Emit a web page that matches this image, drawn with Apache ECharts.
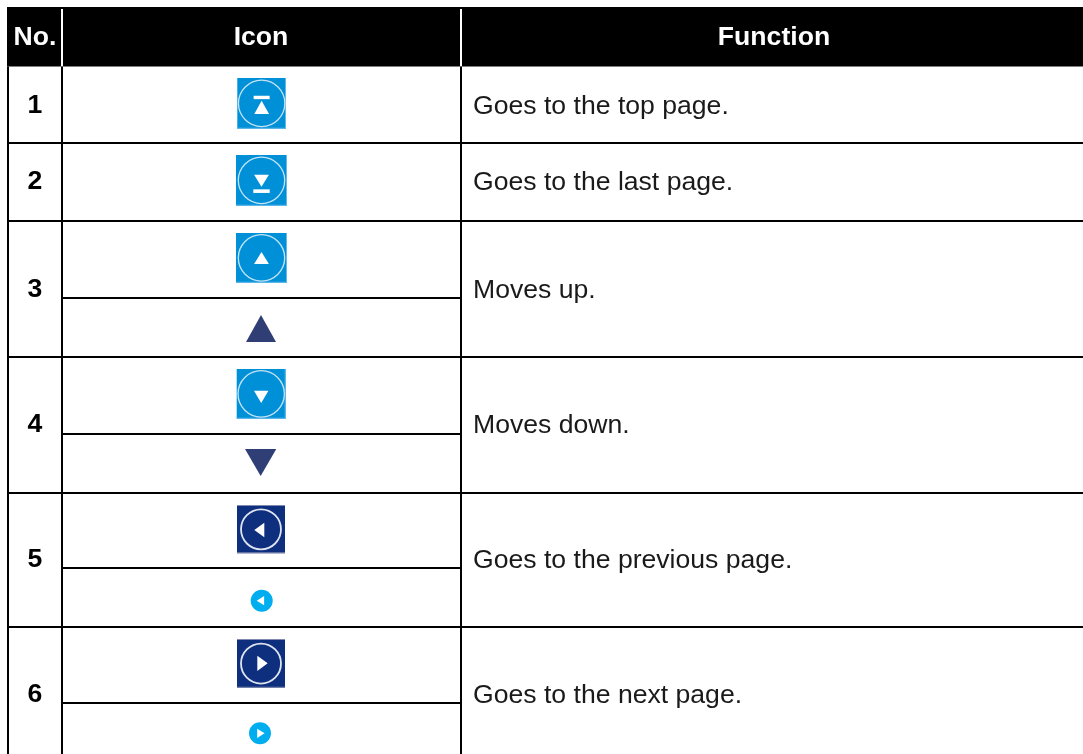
<!DOCTYPE html>
<html>
<head>
<meta charset="utf-8">
<title>Icon table</title>
<style>
  html, body { margin: 0; padding: 0; background: #fff; }
  #J_table { width: 1083px; height: 754px; }
</style>
<script src="https://cdn.jsdelivr.net/npm/echarts@6/dist/echarts.min.js"></script>
</head>
<body>
<div id="J_table"></div>
<script>
'use strict';

// table content
var headers = ['No.', 'Icon', 'Function'];
var rowNumbers = ['1', '2', '3', '4', '5', '6'];
var functions = [
  'Goes to the top page.',
  'Goes to the last page.',
  'Moves up.',
  'Moves down.',
  'Goes to the previous page.',
  'Goes to the next page.'
];
var iconKinds = [
  'top', 'last',
  'up', 'plainUp',
  'down', 'plainDown',
  'prev', 'smallPrev',
  'next', 'smallNext'
];

// layout, in page pixels (the hidden axes run 0..1083 and 0..754)
var colEdges = [7, 61, 460, 1083];
var headTop = 7, headBottom = 66.5;
var rowEdges = [67, 142, 220, 356, 492, 626, 762];
var rowMiddles = [105, 181, 289, 424, 559, 694];
var subLines = [297, 433, 567, 702];
var iconBoxes = [
  [237.3, 78, 286, 128.7], [236, 155, 287, 205.7],
  [236, 233, 287, 282.7], [246, 315, 276, 342],
  [236.7, 369, 285.7, 418.7], [245, 449, 276.3, 476],
  [237, 505, 285, 553.3], [250.7, 589.7, 272.7, 611.7],
  [237, 639, 285, 687.7], [249, 722.3, 271, 744.3]
];

var BLUE = '#0090d8', NAVY = '#0d2f7d', SLATE = '#2f3f75', CYAN = '#00aeef';
var BLUE_EDGE = '#62b8ea', NAVY_EDGE = '#8188ae';
var FONT = 'Liberation Sans';

function poly(api, pts, fill) {
  return {
    type: 'polygon',
    shape: { points: pts.map(function (p) { return api.coord(p); }) },
    style: { fill: fill }
  };
}

function box(api, x0, y0, x1, y1, fill) {
  var a = api.coord([x0, y0]), b = api.coord([x1, y1]);
  return { type: 'rect', shape: { x: a[0], y: a[1], width: b[0] - a[0], height: b[1] - a[1] }, style: { fill: fill } };
}

function ring(api, cx, cy, r, color, lw) {
  var c = api.coord([cx, cy]);
  return { type: 'circle', shape: { cx: c[0], cy: c[1], r: r }, style: { fill: 'none', stroke: color, lineWidth: lw } };
}

function disc(api, cx, cy, r, fill) {
  var c = api.coord([cx, cy]);
  return { type: 'circle', shape: { cx: c[0], cy: c[1], r: r }, style: { fill: fill } };
}

function renderRule(params, api) {
  return box(api, api.value(0), api.value(1), api.value(2), api.value(3), api.value(4) ? '#fff' : '#000');
}

function renderIcon(params, api) {
  var kind = iconKinds[params.dataIndex];
  var b = iconBoxes[params.dataIndex];
  var cx = (b[0] + b[2]) / 2, cy = (b[1] + b[3]) / 2;
  var kids = [];
  if (kind == 'plainUp') {
    kids.push(poly(api, [[cx, b[1]], [b[2], b[3]], [b[0], b[3]]], SLATE));
  } else if (kind == 'plainDown') {
    kids.push(poly(api, [[b[0], b[1]], [b[2], b[1]], [cx, b[3]]], SLATE));
  } else if (kind == 'smallPrev' || kind == 'smallNext') {
    kids.push(disc(api, cx, cy, 11, CYAN));
    if (kind == 'smallPrev') {
      kids.push(poly(api, [[cx - 5, cy], [cx + 2.4, cy - 4.6], [cx + 2.4, cy + 4.6]], '#fff'));
    } else {
      kids.push(poly(api, [[cx - 2.8, cy - 4.6], [cx - 2.8, cy + 4.6], [cx + 4.6, cy]], '#fff'));
    }
  } else if (kind == 'prev' || kind == 'next') {
    kids.push(box(api, b[0], b[1], b[2], b[3], NAVY));
    kids.push(box(api, b[0], b[3] - 1, b[2], b[3], NAVY_EDGE));
    kids.push(box(api, b[0], b[1], b[2], b[1] + 1, NAVY_EDGE));
    kids.push(ring(api, cx, cy + 0.2, 20, '#dfe4f0', 1.8));
    if (kind == 'prev') {
      kids.push(poly(api, [[cx - 6.7, cy + 0.8], [cx + 3.3, cy - 6.4], [cx + 3.3, cy + 8]], '#fff'));
    } else {
      kids.push(poly(api, [[cx - 3.7, cy - 7.7], [cx - 3.7, cy + 7.7], [cx + 6.7, cy]], '#fff'));
    }
  } else {
    kids.push(box(api, b[0], b[1], b[2], b[3], BLUE));
    kids.push(box(api, b[0], b[3] - 1, b[2], b[3], BLUE_EDGE));
    kids.push(box(api, b[2] - 1, b[1], b[2], b[3], BLUE_EDGE));
    kids.push(ring(api, cx, cy, 23.2, '#c4e3f6', 1.3));
    if (kind == 'top') {
      kids.push(box(api, cx - 8, cy - 7.6, cx + 8, cy - 4.2, '#fff'));
      kids.push(poly(api, [[cx, cy - 2.6], [cx + 7.4, cy + 10.6], [cx - 7.4, cy + 10.6]], '#fff'));
    } else if (kind == 'last') {
      kids.push(poly(api, [[cx - 7.4, cy - 5.6], [cx + 7.4, cy - 5.6], [cx, cy + 6.4]], '#fff'));
      kids.push(box(api, cx - 8.2, cy + 9, cx + 8.2, cy + 12.6, '#fff'));
    } else if (kind == 'up') {
      kids.push(poly(api, [[cx, cy - 5.8], [cx + 7.4, cy + 6.2], [cx - 7.4, cy + 6.2]], '#fff'));
    } else {
      kids.push(poly(api, [[cx - 7.2, cy - 3], [cx + 7.2, cy - 3], [cx, cy + 9.2]], '#fff'));
    }
  }
  return { type: 'group', children: kids };
}

function renderLabel(params, api) {
  var c = api.coord([api.value(0), api.value(1)]);
  var weight = api.value(3);
  return {
    type: 'text',
    x: c[0],
    y: c[1],
    style: {
      text: api.value(2),
      fill: weight == 2 ? '#fff' : (weight == 1 ? '#000' : '#1a1a1a'),
      fontFamily: FONT,
      fontSize: 26.6,
      fontWeight: weight > 0 ? 'bold' : 'normal',
      align: api.value(4) ? 'left' : 'center',
      verticalAlign: 'middle'
    }
  };
}

// table rules: x0, y0, x1, y1, white?
var rules = [];
rules.push([colEdges[0], headTop, colEdges[3], headBottom, 0]);
rules.push([colEdges[1], 9, colEdges[1] + 2, headBottom, 1]);
rules.push([colEdges[2], 9, colEdges[2] + 2, headBottom, 1]);
colEdges.slice(0, 3).forEach(function (x) {
  rules.push([x, headBottom, x + 2, 754, 0]);
});
rowEdges.slice(1, 6).forEach(function (y) {
  rules.push([colEdges[0], y, colEdges[3], y + 2, 0]);
});
subLines.forEach(function (y) {
  rules.push([colEdges[1], y, colEdges[2], y + 2, 0]);
});

// labels: x, y, text, weight (0 plain, 1 bold, 2 header), left aligned?
var labels = [];
labels.push([35, 38, headers[0], 2, 0]);
labels.push([261, 38, headers[1], 2, 0]);
labels.push([774, 38, headers[2], 2, 0]);
rowNumbers.forEach(function (n, i) {
  labels.push([35, rowMiddles[i] + 1, n, 1, 0]);
  labels.push([473, rowMiddles[i] + 2, functions[i], 0, 1]);
});

var chart = echarts.init(document.getElementById('J_table'));
chart.setOption({
  animation: false,
  backgroundColor: '#fff',
  grid: { left: 0, right: 0, top: 0, bottom: 0 },
  xAxis: { type: 'value', min: 0, max: 1083, show: false },
  yAxis: { type: 'value', min: 0, max: 754, inverse: true, show: false },
  series: [
    {
      type: 'custom',
      name: 'rules',
      renderItem: renderRule,
      silent: true,
      data: rules
    },
    {
      type: 'custom',
      name: 'icons',
      renderItem: renderIcon,
      silent: true,
      data: iconBoxes.map(function (b) { return [(b[0] + b[2]) / 2, (b[1] + b[3]) / 2]; })
    },
    {
      type: 'custom',
      name: 'labels',
      renderItem: renderLabel,
      silent: true,
      encode: { x: 0, y: 1 },
      dimensions: ['x', 'y', { name: 'text', type: 'ordinal' }, 'weight', 'left'],
      data: labels
    }
  ]
});
</script>
</body>
</html>
